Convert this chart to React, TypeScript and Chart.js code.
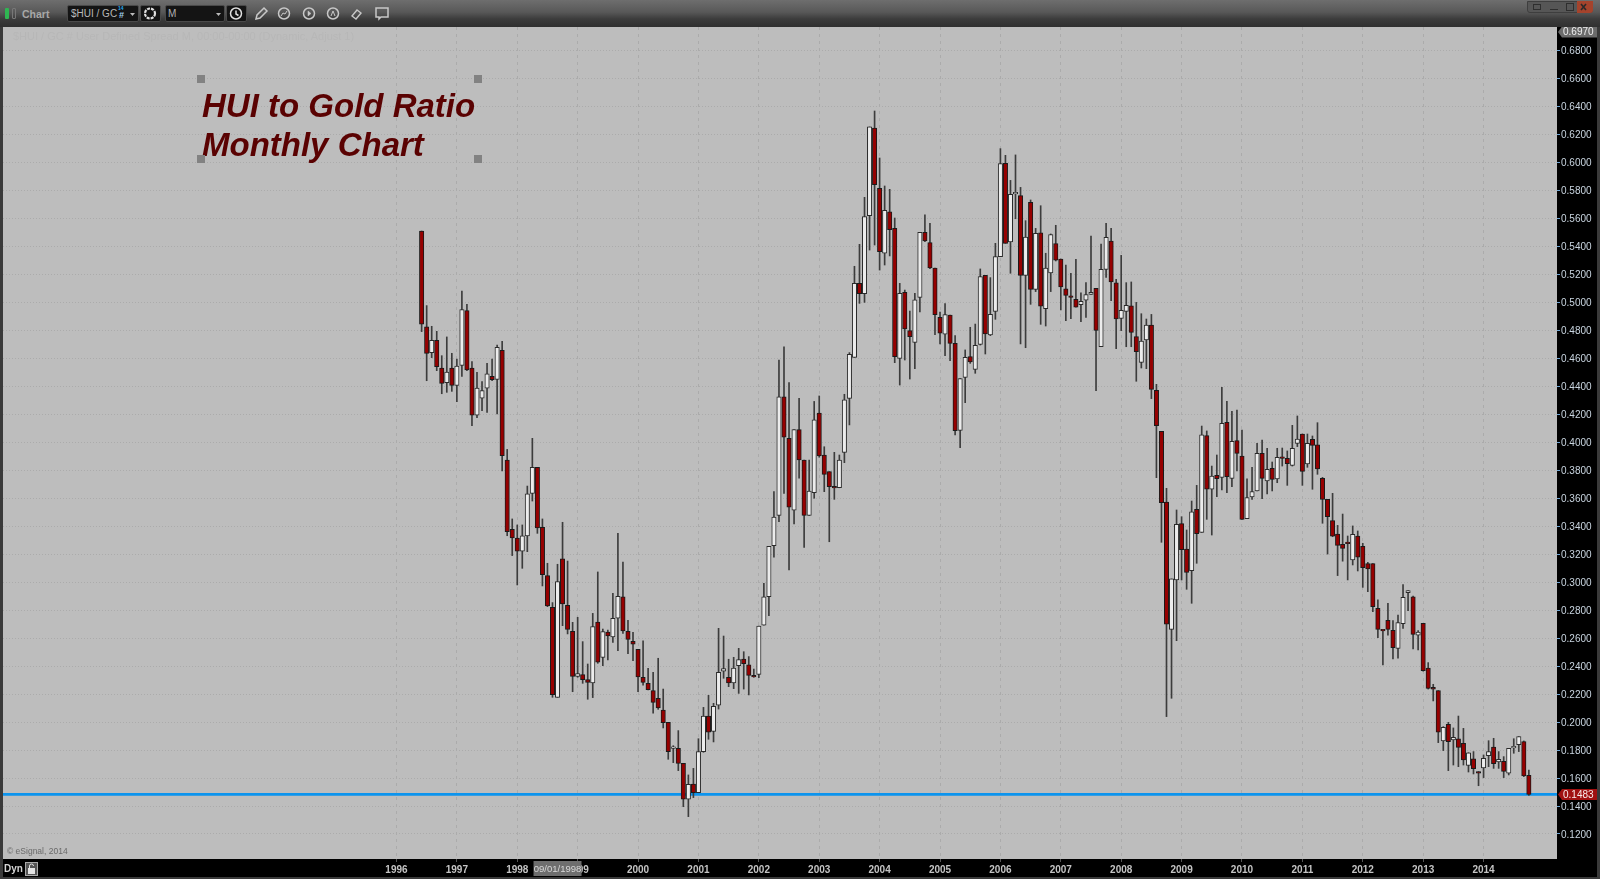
import React, { useEffect, useRef } from "react";
import { Chart, registerables } from "chart.js";

Chart.register(...registerables);

// Monthly candles, June 1996 to October 2014
const firstMonth = 1996 + 5 / 12;
const opens = [
  .5510,.4826,.4641,.4729,.4531,.4426,.4531,.4407,.4550,.4941,.4531,.4193,.4316,.4386,.4471,.4450,.4657,.3873,.3378,.3316,
  .3221,.3330,.3635,.3821,.3392,.3047,.2820,.2177,.3166,.2835,.2649,.2327,.2339,.2303,.2279,.2715,.2463,.2644,.2608,.2742,
  .2896,.2649,.2577,.2520,.2320,.2277,.2225,.2170,.2086,.1998,.1812,.1812,.1705,.1448,.1557,.1495,.1789,.2043,.1934,.2120,
  .2363,.2320,.2279,.2403,.2451,.2410,.2327,.2341,.2692,.2896,.3261,.3478,.4324,.4028,.3514,.4090,.3873,.3478,.3640,.4209,
  .3909,.3790,.3677,.3675,.3928,.4314,.4607,.5136,.5062,.5620,.6246,.5815,.5351,.5648,.5529,.4600,.5072,.4798,.4714,.5036,
  .5501,.5427,.5246,.4893,.4772,.4910,.4707,.4085,.4464,.4612,.4521,.4700,.5193,.4767,.4936,.5327,.5994,.5432,.5775,.5763,
  .5193,.5715,.5093,.5498,.4955,.5210,.5420,.5310,.5096,.5043,.5022,.4984,.5015,.5057,.5100,.4683,.5236,.5439,.5139,.4886,
  .4936,.4976,.4755,.4571,.4731,.4838,.4371,.4078,.3573,.2663,.3016,.3418,.3237,.3082,.3521,.3356,.4047,.3664,.3764,.3749,
  .4143,.3742,.4012,.3902,.3454,.3609,.3652,.3921,.3723,.3814,.3738,.3892,.3885,.3835,.3992,.4059,.3845,.4021,.3981,.3742,
  .3592,.3440,.3344,.3271,.3280,.3159,.3330,.3256,.3132,.3132,.2813,.2656,.2727,.2656,.2527,.2703,.2925,.2896,.2622,.2706,
  .2386,.2248,.2225,.1865,.1984,.1872,.1881,.1848,.1691,.1738,.1638,.1672,.1760,.1822,.1715,.1719,.1634,.1815,.1839,.1860,.1619,
];
const highs = [
  .5510,.4977,.4829,.4793,.4619,.4753,.4636,.4595,.5081,.4986,.4576,.4500,.4433,.4564,.4595,.4695,.4721,.3949,.3452,.3409,
  .3409,.3687,.4028,.3821,.3452,.3135,.2854,.3128,.3428,.3151,.2713,.2749,.2575,.2415,.2777,.3073,.2665,.2658,.2920,.3349,
  .3144,.2727,.2642,.2520,.2580,.2384,.2356,.2456,.2236,.1998,.1831,.1939,.1705,.1622,.1669,.1881,.2105,.2191,.2134,.2670,
  .2615,.2449,.2463,.2527,.2503,.2468,.2379,.2687,.2992,.3256,.3647,.4588,.4683,.4426,.4090,.4314,.3873,.3873,.4292,.4331,
  .3968,.3790,.3928,.3909,.4343,.4641,.5258,.5415,.5751,.6254,.6368,.6032,.5832,.5808,.5603,.5136,.5088,.4938,.5065,.5501,
  .5625,.5565,.5246,.4931,.4991,.4910,.4762,.4455,.4660,.4822,.4845,.5239,.5193,.5177,.5422,.6099,.6051,.5872,.6054,.5822,
  .5584,.5732,.5529,.5691,.5351,.5489,.5551,.5310,.5267,.5208,.5308,.5069,.5141,.5474,.5100,.5417,.5565,.5529,.5165,.5336,
  .5141,.5146,.5000,.4919,.4881,.4914,.4414,.4078,.3671,.3023,.3516,.3468,.3373,.3580,.3692,.4116,.4081,.3830,.3909,.4393,
  .4293,.4221,.4231,.4088,.3738,.3821,.3992,.4016,.3957,.3859,.3957,.3959,.3938,.4121,.4188,.4059,.4059,.4045,.4140,.3749,
  .3592,.3635,.3406,.3487,.3330,.3402,.3366,.3278,.3142,.3132,.2873,.2660,.2849,.2725,.2765,.2982,.2939,.2901,.2654,.2706,
  .2425,.2270,.2225,.1967,.1998,.1958,.2043,.1955,.1781,.1789,.1646,.1765,.1867,.1884,.1789,.1753,.1812,.1881,.1896,.1865,.1657,
];
const lows = [
  .4791,.4440,.4605,.4512,.4347,.4357,.4364,.4290,.4471,.4512,.4119,.4176,.4226,.4214,.4440,.4202,.3795,.3332,.3190,.2980,
  .3099,.3218,.3580,.3349,.2973,.2825,.2177,.2177,.2689,.2630,.2217,.2320,.2277,.2163,.2175,.2420,.2403,.2444,.2570,.2510,
  .2634,.2489,.2439,.2217,.2263,.2229,.2063,.2091,.1958,.1734,.1710,.1653,.1395,.1324,.1460,.1495,.1784,.1877,.1858,.2093,
  .2313,.2253,.2239,.2205,.2236,.2194,.2320,.2317,.2692,.2761,.3178,.3432,.3635,.3087,.3416,.3743,.3249,.3478,.3600,.3893,
  .3647,.3289,.3592,.3675,.3854,.4124,.4607,.4993,.5000,.5374,.5410,.5231,.5267,.5332,.4569,.4409,.4588,.4452,.4526,.4931,
  .5434,.5241,.4769,.4703,.4619,.4583,.4052,.3961,.4283,.4564,.4493,.4695,.4631,.4762,.4879,.5327,.5422,.5208,.5598,.4703,
  .4676,.4986,.5077,.4843,.4831,.5077,.5296,.4946,.4869,.4884,.4965,.4862,.4893,.5057,.4369,.4683,.5179,.5012,.4669,.4798,
  .4683,.4683,.4436,.4531,.4526,.4312,.3747,.3285,.2039,.2170,.2582,.3016,.2949,.2849,.3135,.3356,.3449,.3337,.3611,.3659,
  .3640,.3683,.3795,.3449,.3454,.3592,.3652,.3597,.3630,.3652,.3711,.3830,.3692,.3830,.3969,.3692,.3821,.3664,.3771,.3421,
  .3201,.3325,.3047,.3150,.3016,.3123,.3080,.2963,.2932,.2789,.2603,.2408,.2622,.2451,.2456,.2670,.2796,.2522,.2515,.2363,
  .2236,.2151,.1853,.1796,.1653,.1693,.1681,.1693,.1643,.1629,.1545,.1603,.1681,.1669,.1669,.1603,.1622,.1777,.1789,.1610,.1476,
];
const closes = [
  .4845,.4636,.4729,.4540,.4421,.4502,.4407,.4545,.4948,.4517,.4193,.4388,.4369,.4490,.4448,.4679,.3904,.3361,.3316,.3221,
  .3332,.3632,.3821,.3387,.3054,.2830,.2196,.3004,.2844,.2663,.2327,.2346,.2303,.2284,.2682,.2429,.2646,.2615,.2742,.2899,
  .2651,.2591,.2556,.2322,.2284,.2232,.2141,.2101,.1996,.1789,.1817,.1705,.1448,.1555,.1495,.1789,.2043,.1927,.2113,.2356,
  .2382,.2279,.2386,.2446,.2418,.2334,.2322,.2687,.2896,.3256,.3466,.4324,.4036,.3537,.4090,.3873,.3478,.3652,.4161,.3902,
  .3771,.3683,.3673,.3873,.4304,.4629,.5136,.5062,.5613,.6254,.5841,.5362,.5658,.5520,.4612,.5065,.4810,.4755,.5019,.5501,
  .5439,.5246,.4912,.4779,.4912,.4707,.4083,.4455,.4607,.4574,.4693,.5184,.4774,.4915,.5327,.5992,.5422,.5772,.5779,.5193,
  .5467,.5093,.5494,.4972,.5246,.5484,.5301,.5110,.5050,.5036,.4965,.5007,.5055,.5072,.4800,.5236,.5465,.5146,.4881,.4943,
  .4979,.4786,.4648,.4724,.4838,.4378,.4119,.3568,.2699,.3023,.3414,.3232,.3070,.3502,.3347,.4054,.3664,.3759,.3740,.4135,
  .3754,.4007,.3921,.3449,.3604,.3647,.3921,.3742,.3807,.3735,.3892,.3885,.3847,.3957,.4023,.3792,.3992,.3978,.3809,.3592,
  .3468,.3328,.3263,.3242,.3275,.3342,.3178,.3104,.3094,.2825,.2663,.2651,.2663,.2532,.2711,.2892,.2939,.2627,.2644,.2368,
  .2241,.2236,.1927,.1962,.1860,.1891,.1819,.1729,.1781,.1667,.1634,.1741,.1789,.1703,.1734,.1648,.1812,.1817,.1896,.1615,.1483,
];

const yearTicks = [1996,1997,1998,1999,2000,2001,2002,2003,2004,2005,2006,2007,2008,2009,2010,2011,2012,2013,2014];
const priceTicks = [.12,.14,.16,.18,.20,.22,.24,.26,.28,.30,.32,.34,.36,.38,.40,.42,.44,.46,.48,.50,.52,.54,.56,.58,.60,.62,.64,.66,.68];
const lastPrice = 0.1483;
const topPrice = 0.6970;
const cursorDate = "09/01/1998";
const cursorYear = 1998 + 8 / 12;

const yMin = 0.10212;
const yMax = 0.69684;
const xMin = 1989.485;
const xMax = 2015.216;

const BG = "#bdbdbd";
const monthX = (i: number) => firstMonth + i / 12;

const tagsPlugin = {
  id: "tags",
  beforeDraw(chart: any) {
    const { ctx, chartArea: a } = chart;
    ctx.save();
    ctx.fillStyle = BG;
    ctx.fillRect(a.left, a.top, a.right - a.left, a.bottom - a.top);
    ctx.restore();
  },
  afterDraw(chart: any) {
    const { ctx, chartArea: a, scales } = chart;
    const tag = (value: number, fill: string, color: string) => {
      const y = Math.max(a.top + 5, scales.y.getPixelForValue(value));
      const x = a.right;
      ctx.save();
      ctx.fillStyle = fill;
      ctx.beginPath();
      ctx.moveTo(x + 1, y);
      ctx.lineTo(x + 5, y - 5.5);
      ctx.lineTo(x + 41, y - 5.5);
      ctx.lineTo(x + 41, y + 5.5);
      ctx.lineTo(x + 5, y + 5.5);
      ctx.closePath();
      ctx.fill();
      ctx.fillStyle = color;
      ctx.font = "10px 'Liberation Sans'";
      ctx.textBaseline = "middle";
      ctx.textAlign = "left";
      ctx.fillText(value.toFixed(4), x + 6, y + 0.5);
      ctx.restore();
    };
    tag(topPrice, "#6b6b6b", "#eeeeee");
    tag(lastPrice, "#a01010", "#f8eaea");
    const cx = scales.x.getPixelForValue(cursorYear);
    ctx.save();
    ctx.fillStyle = "#6e6e6e";
    ctx.fillRect(cx - 24, 861, 48, 15);
    ctx.fillStyle = "#d8d8d8";
    ctx.font = "9.5px 'Liberation Sans'";
    ctx.textAlign = "center";
    ctx.textBaseline = "middle";
    ctx.fillText(cursorDate, cx, 869);
    ctx.restore();
  },
};

const abs = (x: number, y: number, w: number, h: number, extra: any = {}) => ({
  position: "absolute" as const, left: x, top: y, width: w, height: h, ...extra,
});

function Handle({ x, y }: { x: number; y: number }) {
  return <div style={abs(x - 4, y - 4, 8, 8, { background: "#828282" })} />;
}

function Toolbar() {
  const font = "'Liberation Sans', sans-serif";
  const stroke = "#c8c8c8";
  return (
    <>
      <div style={abs(0, 0, 1600, 27, { background: "linear-gradient(#6e6e6e 0%, #585858 45%, #3c3c3c 70%, #303030 100%)" })} />
      <div style={abs(5, 8, 4, 11, { background: "#2fb552", borderRadius: 1 })} />
      <div style={abs(12, 8, 4, 11, { border: "1px solid #777", boxSizing: "border-box", borderRadius: 1 })} />
      <div style={abs(22, 7, 40, 14, { color: "#a8a8a8", font: `bold 10.5px ${font}`, lineHeight: "14px" })}>Chart</div>

      <div style={abs(67, 5, 72, 17, { background: "#141414", border: "1px solid #4a4a4a", boxSizing: "border-box", borderRadius: 2 })} />
      <div style={abs(71, 7, 48, 14, { color: "#b8b8b8", font: `10px ${font}`, lineHeight: "14px", whiteSpace: "nowrap" })}>$HUI / GC</div>
      <div style={abs(119, 9, 8, 13, { color: "#9ecbe8", font: `bold 9px ${font}`, lineHeight: "13px" })}>#</div>
      <div style={abs(118, 6, 8, 5, { color: "#22a8f0", font: `bold 5px ${font}`, lineHeight: "5px" })}>14</div>
      <div style={abs(140, 5, 21, 17, { background: "#141414", border: "1px solid #4a4a4a", boxSizing: "border-box", borderRadius: 2 })} />
      <div style={abs(165, 5, 60, 17, { background: "#141414", border: "1px solid #4a4a4a", boxSizing: "border-box", borderRadius: 2 })} />
      <div style={abs(168, 7, 12, 14, { color: "#b0b0b0", font: `10px ${font}`, lineHeight: "14px" })}>M</div>
      <div style={abs(226, 5, 21, 17, { background: "#141414", border: "1px solid #4a4a4a", boxSizing: "border-box", borderRadius: 2 })} />

      <svg style={abs(0, 0, 420, 27)} width={420} height={27} fill="none" stroke={stroke} strokeWidth={1.5}>
        <path d="M130 13l5 0-2.5 3z" fill="#bbb" stroke="none" />
        <path d="M216 13l5 0-2.5 3z" fill="#bbb" stroke="none" />
        <circle cx={150} cy={13.5} r={5} strokeWidth={2.2} stroke="#e0e0e0" strokeDasharray="3 1" />
        <circle cx={236} cy={13.5} r={5.5} stroke="#e0e0e0" />
        <path d="M236 10.5v3.5l2.5 1.5" stroke="#e0e0e0" />
        <path d="M256 19l1-4 7-7 3 3-7 7z" />
        <circle cx={284} cy={13.5} r={5.5} />
        <path d="M281 16l2-3 2 1 2-3" strokeWidth={1} />
        <circle cx={309} cy={13.5} r={5.5} />
        <path d="M308 11v5l3-2.5z" fill={stroke} strokeWidth={0.5} />
        <circle cx={333} cy={13.5} r={5.5} />
        <path d="M331 16l2-5 2 5" strokeWidth={1} />
        <path d="M352 16l5-6 4 3-5 6z" strokeWidth={1.4} />
        <path d="M376 8h12v9h-7l-2 2v-2h-3z" />
      </svg>

      <div style={abs(1527, 1, 66, 12, { background: "#565656", borderRadius: "0 0 3px 3px", border: "1px solid #3e3e3e", boxSizing: "border-box" })} />
      <div style={abs(1577, 1, 16, 12, { background: "#a5432c", borderRadius: "0 0 3px 0" })} />
      <svg style={abs(1527, 1, 66, 12)} width={66} height={12} fill="none" stroke="#2e2e2e" strokeWidth={1}>
        <rect x={6.5} y={3.5} width={7} height={5} />
        <path d="M23 8.5h8" />
        <rect x={39.5} y={2.5} width={7} height={7} />
        <path d="M54 3l5 6M59 3l-5 6" strokeWidth={1.6} stroke="#2a2a2a" />
      </svg>
    </>
  );
}

export default function App() {
  const ref = useRef<HTMLCanvasElement | null>(null);

  useEffect(() => {
    if (!ref.current) return;
    const idx = opens.map((_, i) => i);
    const isDown = (i: number) => closes[i] < opens[i];
    const wickData = idx.map((i) => ({ x: monthX(i), y: [lows[i], highs[i]] }));
    const downData = idx.filter(isDown).map((i) => ({ x: monthX(i), y: [opens[i], closes[i]] }));
    const upData = idx.filter((i) => !isDown(i)).map((i) => ({ x: monthX(i), y: [opens[i], closes[i]] }));

    const chart = new Chart(ref.current, {
      type: "bar",
      plugins: [tagsPlugin],
      data: {
        datasets: [
          {
            type: "line",
            label: "Last",
            data: [{ x: xMin, y: lastPrice }, { x: xMax, y: lastPrice }],
            borderColor: "#0c94ee",
            borderWidth: 2.6,
            pointRadius: 0,
            order: 4,
          },
          {
            label: "Wick",
            data: wickData,
            backgroundColor: "#3c3c3c",
            barThickness: 1,
            grouped: false,
            order: 3,
          },
          {
            label: "Down",
            data: downData,
            backgroundColor: "#960000",
            borderColor: "#1a1a1a",
            borderWidth: 1,
            borderSkipped: false,
            barThickness: 4.4,
            minBarLength: 1.6,
            grouped: false,
            order: 2,
          },
          {
            label: "Up",
            data: upData,
            backgroundColor: "#ececec",
            borderColor: "#2a2a2a",
            borderWidth: 1,
            borderSkipped: false,
            barThickness: 4.4,
            minBarLength: 1.6,
            grouped: false,
            order: 1,
          },
        ] as any,
      },
      options: {
        responsive: false,
        animation: false,
        devicePixelRatio: 1,
        layout: { padding: { left: 3, top: 27, right: 0, bottom: 2 } },
        plugins: { legend: { display: false }, tooltip: { enabled: false }, title: { display: false } },
        scales: {
          x: {
            type: "linear",
            min: xMin,
            max: xMax,
            offset: false,
            afterBuildTicks: (s: any) => { s.ticks = yearTicks.map((value) => ({ value })); },
            afterFit: (s: any) => { s.height = 18; },
            ticks: {
              autoSkip: false,
              maxRotation: 0,
              padding: 2,
              color: "#c4c4c4",
              font: { family: "'Liberation Sans'", size: 10, weight: "bold" },
              callback: (v: any) => String(v),
            },
            grid: { offset: false, color: "#ababab", tickColor: "#555555", tickLength: 3, lineWidth: 1 },
            border: { display: false, dash: [3, 4] },
          },
          y: {
            type: "linear",
            position: "right",
            min: yMin,
            max: yMax,
            afterBuildTicks: (s: any) => { s.ticks = priceTicks.map((value) => ({ value })); },
            afterFit: (s: any) => { s.width = 43; },
            ticks: {
              autoSkip: false,
              padding: 1,
              labelOffset: 1,
              color: "#c9d5e0",
              font: { family: "'Liberation Sans'", size: 10 },
              callback: (v: any) => Number(v).toFixed(4),
            },
            grid: { color: "#ababab", tickColor: "#6fa6d6", tickLength: 3, lineWidth: 1 },
            border: { display: false, dash: [1, 2] },
          },
        },
      } as any,
    });
    return () => chart.destroy();
  }, []);

  return (
    <div style={abs(0, 0, 1600, 879, { background: "#000", overflow: "hidden" })}>
      <canvas ref={ref} width={1600} height={879} style={abs(0, 0, 1600, 879, { display: "block" })} />
      <Toolbar />
      <div style={abs(0, 27, 3, 852, { background: "#3a3a3a" })} />
      <div style={abs(0, 877, 1600, 2, { background: "#3a3a3a" })} />
      <div style={abs(1597, 27, 3, 852, { background: "#3a3a3a" })} />

      <div style={abs(13, 30, 400, 13, { color: "#b7b7b7", font: "11px 'Liberation Sans'", lineHeight: "13px", whiteSpace: "nowrap" })}>
        $HUI / GC # User Defined Spread M, 00:00-00:00 (Dynamic, Adjust 1)
      </div>

      <div style={abs(202, 86, 300, 78, { color: "#5a0202", font: "italic bold 33px 'Liberation Sans'", lineHeight: "39px", whiteSpace: "nowrap" })}>
        HUI to Gold Ratio<br />Monthly Chart
      </div>
      <Handle x={201} y={79} />
      <Handle x={478} y={79} />
      <Handle x={201} y={159} />
      <Handle x={478} y={159} />

      <div style={abs(7, 846, 100, 11, { color: "#6a6a6a", font: "8.5px 'Liberation Sans'", lineHeight: "11px", whiteSpace: "nowrap" })}>© eSignal, 2014</div>
      <div style={abs(4, 861, 20, 15, { color: "#d4d4d4", font: "bold 10px 'Liberation Sans'", lineHeight: "15px" })}>Dyn</div>
      <div style={abs(25, 862, 13, 14, { background: "#555", border: "1px solid #aaa", boxSizing: "border-box" })} />
      <svg style={abs(25, 862, 13, 14)} width={13} height={14} fill="none" stroke="#e4e4e4" strokeWidth={1}>
        <path d="M4.5 6V4a2 2 0 0 1 4 0" />
        <rect x={3.5} y={6.5} width={6} height={5} fill="#e4e4e4" />
      </svg>
    </div>
  );
}
